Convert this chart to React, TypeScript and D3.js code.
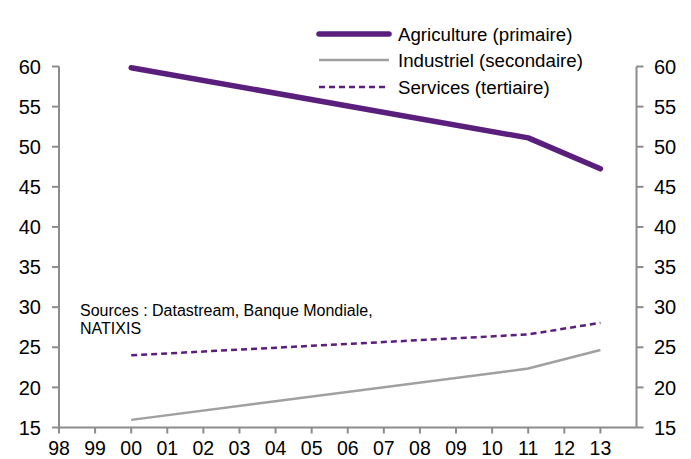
import React from "react";
import * as d3 from "d3";

const years = [1998, 1999, 2000, 2001, 2002, 2003, 2004, 2005, 2006, 2007, 2008, 2009, 2010, 2011, 2012, 2013];
const tickLabels = ["98", "99", "00", "01", "02", "03", "04", "05", "06", "07", "08", "09", "10", "11", "12", "13"];
const dataYears = [2000, 2011, 2013];
const agriculture = [59.85, 51.1, 47.25];
const industriel = [15.95, 22.35, 24.65];
const services = [24.0, 26.6, 28.05];
const yTicks = [15, 20, 25, 30, 35, 40, 45, 50, 55, 60];
const seriesNames = ["Agriculture (primaire)", "Industriel (secondaire)", "Services (tertiaire)"];

const W = 691;
const H = 459;
const PURPLE = "#5a1e7c";
const GREY = "#a0a0a0";
const AXIS = "#8c8c8c";
const FONT = "'Liberation Sans', Arial, sans-serif";

export default function App() {
  const x = d3.scaleLinear().domain([1998, 2014]).range([59, 636.5]);
  const y = d3.scaleLinear().domain([15, 60]).range([427.5, 66.5]);
  const line = d3
    .line<[number, number]>()
    .x((d) => x(d[0]))
    .y((d) => y(d[1]));
  const mk = (vals: number[]) => dataYears.map((yr, i) => [yr, vals[i]] as [number, number]);

  const legendStyles = [
    { stroke: PURPLE, width: 5.5, dash: undefined as string | undefined },
    { stroke: GREY, width: 2.5, dash: undefined },
    { stroke: PURPLE, width: 2.5, dash: "6,4" },
  ];
  const legendY = [34, 60, 87];

  return (
    <svg width={W} height={H} style={{ position: "absolute", left: 0, top: 0, background: "#fff" }} fontFamily={FONT}>
      {/* left axis */}
      <line x1={x(1998)} x2={x(1998)} y1={y(60)} y2={y(15)} stroke={AXIS} strokeWidth={2} />
      {yTicks.map((t) => (
        <g key={"l" + t}>
          <line x1={x(1998) - 7} x2={x(1998)} y1={y(t)} y2={y(t)} stroke={AXIS} strokeWidth={2} />
          <text x={41} y={y(t)} dy="0.36em" textAnchor="end" fontSize={20} fill="#000">
            {t}
          </text>
        </g>
      ))}
      {/* right axis */}
      <line x1={x(2014)} x2={x(2014)} y1={y(60)} y2={y(15)} stroke={AXIS} strokeWidth={2} />
      {yTicks.map((t) => (
        <g key={"r" + t}>
          <line x1={x(2014)} x2={x(2014) + 7} y1={y(t)} y2={y(t)} stroke={AXIS} strokeWidth={2} />
          <text x={654} y={y(t)} dy="0.36em" textAnchor="start" fontSize={20} fill="#000">
            {t}
          </text>
        </g>
      ))}
      {/* bottom axis */}
      <line x1={x(1998)} x2={x(2014)} y1={y(15)} y2={y(15)} stroke={AXIS} strokeWidth={2} />
      {years.map((yr, i) => (
        <g key={"b" + yr}>
          <line x1={x(yr)} x2={x(yr)} y1={y(15)} y2={y(15) + 6} stroke={AXIS} strokeWidth={2} />
          <text x={x(yr)} y={455} textAnchor="middle" fontSize={19.5} fill="#000">
            {tickLabels[i]}
          </text>
        </g>
      ))}

      {/* series */}
      <path d={line(mk(industriel)) || ""} fill="none" stroke={GREY} strokeWidth={2.5} />
      <path d={line(mk(services)) || ""} fill="none" stroke={PURPLE} strokeWidth={2.5} strokeDasharray="6,4" />
      <path d={line(mk(agriculture)) || ""} fill="none" stroke={PURPLE} strokeWidth={5.5} strokeLinecap="round" strokeLinejoin="round" />

      {/* legend */}
      {seriesNames.map((n, i) => (
        <g key={n}>
          <line
            x1={319}
            x2={389}
            y1={legendY[i]}
            y2={legendY[i]}
            stroke={legendStyles[i].stroke}
            strokeWidth={legendStyles[i].width}
            strokeDasharray={legendStyles[i].dash}
            strokeLinecap={i === 0 ? "round" : "butt"}
          />
          <text x={398} y={legendY[i]} dy="0.36em" fontSize={18.7} fill="#000">
            {n}
          </text>
        </g>
      ))}

      {/* source */}
      <text x={80} y={316} fontSize={16} fill="#000">
        Sources : Datastream, Banque Mondiale,
      </text>
      <text x={80} y={334} fontSize={16} fill="#000">
        NATIXIS
      </text>
    </svg>
  );
}
